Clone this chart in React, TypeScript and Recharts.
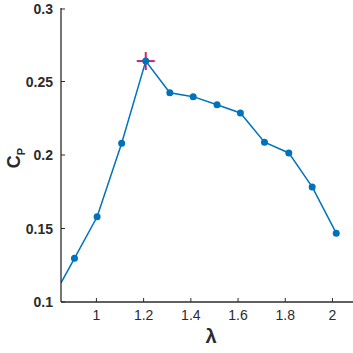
import React from 'react';
import { ComposedChart, Line, Scatter, XAxis, YAxis } from 'recharts';

// tip speed ratio vs power coefficient
const lambdaValues = [0.85, 0.907, 1.003, 1.107, 1.209, 1.311, 1.41, 1.511, 1.61, 1.712, 1.815, 1.914, 2.016];
const cpValues = [0.113, 0.1297, 0.158, 0.208, 0.2639, 0.2423, 0.2397, 0.2342, 0.2286, 0.2087, 0.2014, 0.1783, 0.1468];

// maximum marked with a plus
const peakLambda = [1.209];
const peakCp = [0.2639];

const xTicks = [1, 1.2, 1.4, 1.6, 1.8, 2];
const yTicks = [0.1, 0.15, 0.2, 0.25, 0.3];

const data = lambdaValues.map((l, i) => ({ lambda: l, cp: cpValues[i] }));
const peak = peakLambda.map((l, i) => ({ lambda: l, cp: peakCp[i] }));

const AXIS = '#2b2b2b';
const BLUE = '#0072BD';
const FONT = '"Liberation Sans", Arial, sans-serif';

const XTick = (props: any) => {
  const { x, y, payload } = props;
  return (
    <g>
      <line x1={x} x2={x} y1={y} y2={y - 4} stroke={AXIS} strokeWidth={1} />
      <text x={x} y={y + 18} textAnchor="middle" fill={AXIS} fontSize={14} fontFamily={FONT}>
        {String(payload.value)}
      </text>
    </g>
  );
};

const YTick = (props: any) => {
  const { x, y, payload } = props;
  return (
    <g>
      <line x1={x} x2={x + 4} y1={y} y2={y} stroke={AXIS} strokeWidth={1} />
      <text x={x - 8} y={y + 5} textAnchor="end" fill={AXIS} fontSize={14} fontWeight="bold" fontFamily={FONT}>
        {String(payload.value)}
      </text>
    </g>
  );
};

const Plus = (props: any) => {
  const { cx, cy } = props;
  const c = '#D4245B';
  return (
    <g>
      <line x1={cx - 9} x2={cx + 9} y1={cy} y2={cy} stroke={c} strokeWidth={2} />
      <line x1={cx} x2={cx} y1={cy - 9} y2={cy + 9} stroke={c} strokeWidth={2} />
    </g>
  );
};

const renderDot = (props: any) => {
  const { cx, cy, index } = props;
  if (index === 0) return <g key={`d${index}`} />;
  return <circle key={`d${index}`} cx={cx} cy={cy} r={3.5} fill={BLUE} stroke="none" />;
};

export default function App() {
  return (
    <div style={{ position: 'absolute', left: 0, top: 0, background: '#fff' }}>
      <ComposedChart width={353} height={353} data={data} margin={{ top: 8, right: 0, bottom: 21, left: 0 }}>
        <XAxis
          type="number"
          dataKey="lambda"
          domain={[0.85, 2.087]}
          ticks={xTicks}
          allowDataOverflow
          height={30}
          tickSize={0}
          tickMargin={0}
          tickLine={false}
          tick={<XTick />}
          axisLine={{ stroke: AXIS, strokeWidth: 1.3 }}
          label={{
            content: () => (
              <text x={211} y={343} textAnchor="middle" fill={AXIS} fontSize={20} fontWeight="bold" fontFamily={FONT}>
                λ
              </text>
            ),
          }}
        />
        <YAxis
          type="number"
          domain={[0.1, 0.3]}
          ticks={yTicks}
          allowDataOverflow
          width={61}
          tickSize={0}
          tickMargin={0}
          tickLine={false}
          tick={<YTick />}
          axisLine={{ stroke: AXIS, strokeWidth: 1.3 }}
          label={{
            content: () => (
              <text
                transform="rotate(-90 20 158)"
                x={20}
                y={158}
                textAnchor="middle"
                fill={AXIS}
                fontSize={18}
                fontWeight="bold"
                fontFamily={FONT}
              >
                C
                <tspan fontSize={11} dy={5}>P</tspan>
              </text>
            ),
          }}
        />
        <Scatter data={peak} dataKey="cp" shape={<Plus />} isAnimationActive={false} />
        <Line
          type="linear"
          dataKey="cp"
          stroke={BLUE}
          strokeWidth={1.5}
          dot={renderDot}
          activeDot={false}
          isAnimationActive={false}
        />
      </ComposedChart>
    </div>
  );
}
